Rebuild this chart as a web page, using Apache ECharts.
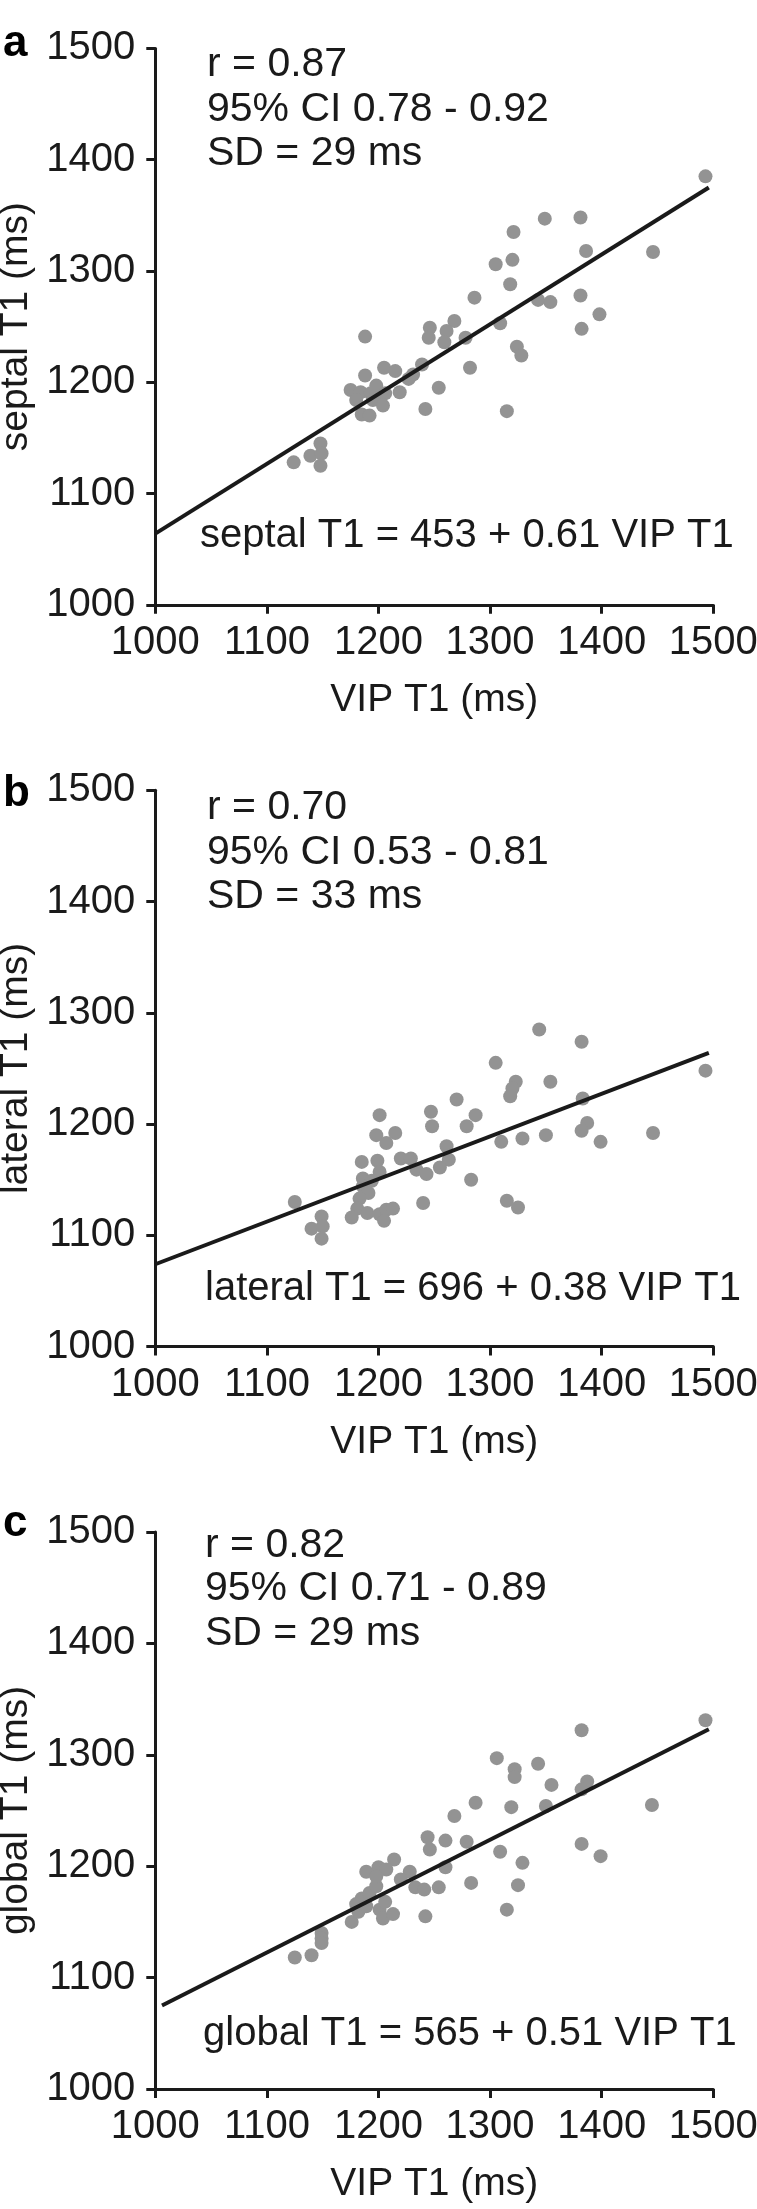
<!DOCTYPE html>
<html><head><meta charset="utf-8">
<script src="https://cdn.jsdelivr.net/npm/echarts@6/dist/echarts.min.js"></script>
<style>html,body{margin:0;padding:0;background:#fff}#c{width:757px;height:2209px}</style>
</head><body><div id="c"></div>
<script>
// ---- data ----
const vipA = [1493,1349,1381,1321,1386,1446,1305,1320,1318,1286,1381,1343,1354,1398,1382,1309,1268,1246,1261,1245,1259,1278,1324,1328,1282,1188,1239,1205,1215,1231,1227,1188,1254,1219,1315,1242,1175,1184,1193,1198,1202,1206,1180,1195,1204,1185,1192,1148,1139,1149,1124,1148];
const septalA = [1385,1347,1348,1335,1318,1317,1306,1310,1288,1276,1278,1274,1272,1261,1248,1253,1255,1249,1246,1240,1236,1240,1232,1224,1213,1241,1216,1213,1210,1207,1203,1206,1195,1191,1174,1176,1193,1191,1190,1197,1187,1190,1184,1184,1179,1171,1170,1145,1134,1136,1128,1125];
const vipB = [1125,1149,1140,1150,1149,1201,1198,1215,1207,1185,1199,1220,1229,1201,1186,1186,1191,1183,1181,1176,1190,1201,1207,1213,1205,1194,1234,1243,1240,1247,1248,1261,1263,1255,1270,1279,1287,1283,1344,1382,1305,1323,1320,1318,1354,1493,1383,1387,1382,1350,1329,1310,1399,1446,1315,1325];
const lateralB = [1130,1117,1106,1108,1097,1208,1190,1192,1183,1166,1167,1169,1169,1157,1151,1144,1138,1133,1124,1116,1120,1119,1123,1124,1113,1149,1159,1155,1129,1211,1198,1180,1168,1161,1222,1198,1208,1150,1285,1274,1255,1238,1232,1225,1238,1248,1223,1201,1194,1190,1187,1184,1184,1192,1131,1125];
const vipC = [1125,1140,1149,1149,1149,1268,1244,1246,1260,1279,1214,1189,1200,1207,1228,1220,1260,1283,1233,1241,1254,1242,1176,1182,1185,1192,1198,1198,1189,1201,1206,1204,1213,1493,1382,1306,1322,1322,1343,1355,1387,1382,1287,1319,1350,1445,1382,1309,1399,1329,1325,1315,1180];
const globalC = [1118,1120,1140,1135,1131,1245,1226,1215,1223,1222,1206,1195,1199,1197,1195,1188,1199,1185,1181,1179,1181,1155,1150,1159,1171,1176,1182,1191,1164,1161,1168,1153,1157,1331,1322,1297,1287,1280,1292,1273,1276,1269,1257,1253,1254,1255,1220,1213,1209,1203,1183,1161,1166];
const fitA = [[1000,1064],[1496,1375]];
const fitB = [[1000,1074],[1496,1264]];
const fitC = [[1006,1075],[1496,1323]];
const axisMin = 1000, axisMax = 1500, axisStep = 100;
const xTitle = 'VIP T1 (ms)';
const yTitles = ['septal T1 (ms)', 'lateral T1 (ms)', 'global T1 (ms)'];
const panelLetters = ['a', 'b', 'c'];
const statsA = ['r = 0.87', '95% CI 0.78 - 0.92', 'SD = 29 ms', 'septal T1 = 453 + 0.61 VIP T1'];
const statsB = ['r = 0.70', '95% CI 0.53 - 0.81', 'SD = 33 ms', 'lateral T1 = 696 + 0.38 VIP T1'];
const statsC = ['r = 0.82', '95% CI 0.71 - 0.89', 'SD = 29 ms', 'global T1 = 565 + 0.51 VIP T1'];

// ---- layout ----
const FONT = '"Liberation Sans", Arial, sans-serif';
const ink = '#1a1a1a';
const dot = '#939393';
const tops = [48.4, 790.2, 1532];
const heights = [556.4, 556.4, 557];
const pts = [[vipA, septalA], [vipB, lateralB], [vipC, globalC]];
const fits = [fitA, fitB, fitC];
const stats = [statsA, statsB, statsC];
const textPos = [
  {x: 207, ys: [65, 110, 154], ex: 200, ey: 536, ly: 22},
  {x: 207, ys: [808, 853, 897], ex: 205, ey: 1289, ly: 772},
  {x: 205, ys: [1546, 1589, 1634], ex: 203, ey: 2034, ly: 1502}
];

const grid = [], xAxis = [], yAxis = [], series = [], graphic = [];
for (let i = 0; i < 3; i++) {
  grid.push({left: 155.3, width: 558, top: tops[i], height: heights[i],
             containLabel: false, outerBoundsMode: 'none'});
  const axCommon = {
    min: axisMin, max: axisMax, interval: axisStep,
    axisLine: {show: true, onZero: false, lineStyle: {color: ink, width: 3}},
    axisTick: {show: true, inside: false, length: 9, lineStyle: {color: ink, width: 3}},
    splitLine: {show: false},
    nameTextStyle: {color: ink, fontSize: 39, fontFamily: FONT},
    nameLocation: 'middle'
  };
  const lbl = {color: ink, fontSize: 40, fontFamily: FONT, formatter: v => String(v), hideOverlap: false};
  xAxis.push(Object.assign({}, axCommon, {
    type: 'value', gridIndex: i, name: xTitle, nameGap: 76,
    axisLabel: Object.assign({}, lbl, {margin: 18})
  }));
  yAxis.push(Object.assign({}, axCommon, {
    type: 'value', gridIndex: i, name: yTitles[i], nameGap: 109, nameRotate: 90,
    axisLabel: Object.assign({}, lbl, {margin: 20})
  }));
  const [xs, ys] = pts[i];
  series.push({
    type: 'scatter', xAxisIndex: i, yAxisIndex: i, symbolSize: 14,
    itemStyle: {color: dot, opacity: 1}, z: 2,
    data: xs.map((v, k) => [v, ys[k]])
  });
  series.push({
    type: 'line', xAxisIndex: i, yAxisIndex: i, symbol: 'none', z: 3,
    lineStyle: {color: ink, width: 4}, data: fits[i]
  });
  const tp = textPos[i];
  for (let k = 0; k < 3; k++) {
    graphic.push({type: 'text', z: 10, style: {
      text: stats[i][k], x: tp.x, y: tp.ys[k], fill: ink,
      font: '41px ' + FONT, verticalAlign: 'middle', align: 'left'}});
  }
  graphic.push({type: 'text', z: 10, style: {
    text: stats[i][3], x: tp.ex, y: tp.ey, fill: ink,
    font: '40px ' + FONT, verticalAlign: 'middle', align: 'left'}});
  graphic.push({type: 'text', z: 10, style: {
    text: panelLetters[i], x: 3, y: tp.ly, fill: '#000',
    font: 'bold 44px ' + FONT, verticalAlign: 'alphabetic', align: 'left'}});
}

const chart = echarts.init(document.getElementById('c'), null, {renderer: 'canvas'});
chart.setOption({
  animation: false, backgroundColor: '#fff',
  grid, xAxis, yAxis, series, graphic
});
</script></body></html>
